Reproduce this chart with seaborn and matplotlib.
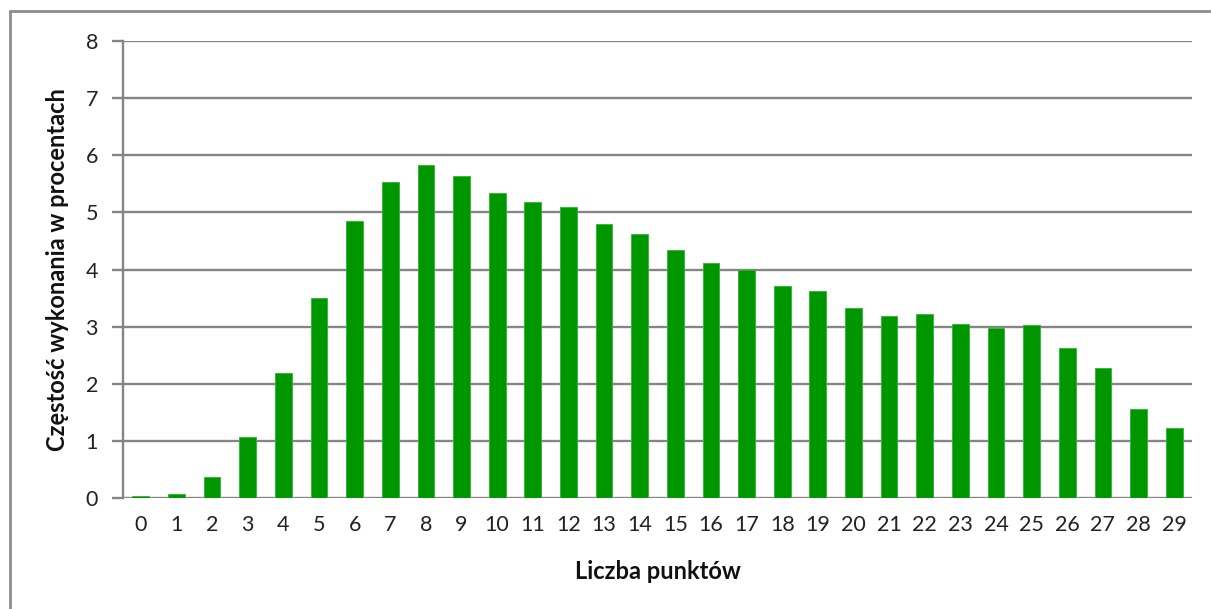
import matplotlib
matplotlib.use("Agg")
import matplotlib.pyplot as plt
import seaborn as sns
import pandas as pd
from matplotlib.lines import Line2D

points = [str(i) for i in range(30)]
percent = [0.03, 0.07, 0.37, 1.06, 2.19, 3.50, 4.85, 5.54, 5.83, 5.64,
           5.34, 5.18, 5.09, 4.80, 4.62, 4.34, 4.11, 3.99, 3.71, 3.62,
           3.33, 3.19, 3.22, 3.04, 2.97, 3.02, 2.63, 2.27, 1.56, 1.22]
yticks = [0, 1, 2, 3, 4, 5, 6, 7, 8]
xlabel = "Liczba punktów"
ylabel = "Częstość wykonania w procentach"

sns.set_theme(style="white")
plt.rcParams['font.family'] = ['Lato', 'DejaVu Sans']

W, H = 1211, 609
fig = plt.figure(figsize=(W / 100, H / 100), dpi=100)
ax = fig.add_axes([123 / W, (H - 498) / H, (1192 - 123) / W, (498 - 41) / H])

df = pd.DataFrame({"pts": points, "pct": percent})
sns.barplot(data=df, x="pts", y="pct", order=points, color="#009600",
            saturation=1, width=0.47, ax=ax, edgecolor="#2db82d", linewidth=0.6,
            zorder=3)

grid = "#858585"
ax.set_ylim(0, 8)
ax.set_xlim(-0.5, 29.5)
ax.set_yticks(yticks)
ax.set_yticklabels([str(t) for t in yticks])
for t in yticks:
    ax.axhline(t, color=grid, lw=1.7, zorder=1)
for s in ["top", "right", "bottom"]:
    ax.spines[s].set_visible(False)
ax.spines["left"].set_color(grid)
ax.spines["left"].set_linewidth(1.7)
ax.tick_params(axis="y", length=8, width=1.7, color=grid, left=True,
               labelsize=15.5, pad=10, labelcolor="#222222")
ax.tick_params(axis="x", length=0, labelsize=15.5, pad=12, labelcolor="#222222")
ax.set_xlabel(xlabel, fontsize=17, fontweight="bold", labelpad=18, color="#111111")
ax.set_ylabel(ylabel, fontsize=17, fontweight="bold", labelpad=12, color="#111111")

# outer chart frame (left and top edges visible)
fig.add_artist(Line2D([10 / W, 10 / W], [0, (H - 11) / H], color="#8c8c8c", lw=2,
                      transform=fig.transFigure))
fig.add_artist(Line2D([10 / W, 1.0], [(H - 11) / H, (H - 11) / H], color="#8c8c8c", lw=2,
                      transform=fig.transFigure))

fig.savefig("out.png", dpi=100, facecolor="white")
